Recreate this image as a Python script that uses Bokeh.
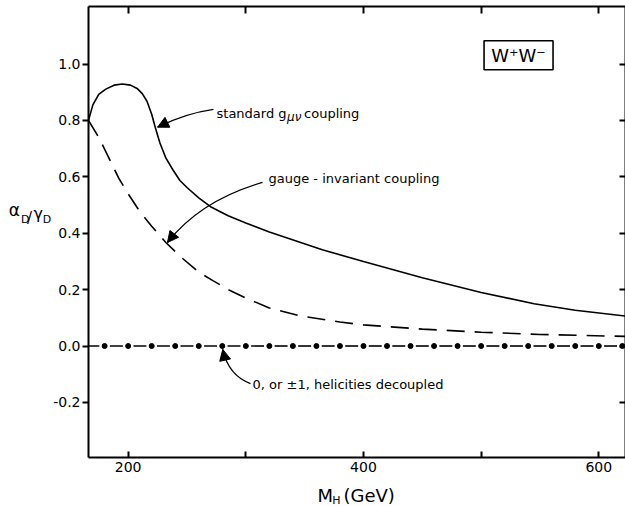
import numpy as np
from bokeh.plotting import figure
from bokeh.models import (Range1d, LinearAxis, FixedTicker, NumeralTickFormatter,
                          Label, Arrow, NormalHead)
from bokeh.embed import file_html
from bokeh.resources import INLINE

# ---------------- data ----------------
mh_standard = [166.3, 170, 175, 181, 188, 195, 202, 208, 212, 216, 220, 223, 227, 232,
               238, 244, 250, 260, 270, 285, 300, 320, 346, 365, 400, 450, 500, 545,
               580, 622.7]
alpha_standard = [0.80, 0.855, 0.892, 0.911, 0.925, 0.929, 0.925, 0.912, 0.895, 0.868,
                  0.822, 0.776, 0.72, 0.667, 0.625, 0.587, 0.562, 0.525, 0.494, 0.462,
                  0.436, 0.404, 0.368, 0.341, 0.300, 0.242, 0.190, 0.150, 0.127, 0.106]

mh_gauge = [166.3, 175, 185, 192, 200, 210, 220, 232, 245, 260, 272, 285, 300, 320,
            346, 380, 400, 450, 500, 550, 622.7]
alpha_gauge = [0.80, 0.74, 0.655, 0.595, 0.54, 0.476, 0.425, 0.367, 0.315, 0.262,
               0.232, 0.2, 0.17, 0.135, 0.107, 0.085, 0.075, 0.06, 0.049, 0.041, 0.034]

mh_decoupled = [180, 200, 220, 240, 260, 280, 300, 320, 340, 360, 380, 400, 420, 440,
                460, 480, 500, 520, 540, 560, 580, 600, 620]
alpha_decoupled = [0.0, 0.0, 0.0, 0.0, 0.0, 0.0, 0.0, 0.0, 0.0, 0.0, 0.0, 0.0, 0.0,
                   0.0, 0.0, 0.0, 0.0, 0.0, 0.0, 0.0, 0.0, 0.0, 0.0]

x_ticks_labeled = [200, 400, 600]
x_ticks_minor = [300, 500]
x_ticks_all = [200, 300, 400, 500, 600]
y_ticks = [-0.2, 0.0, 0.2, 0.4, 0.6, 0.8, 1.0]

# plot box (data limits) inside the full canvas view
X_LO, X_HI = 166.3, 622.7
Y_LO, Y_HI = -0.395, 1.204

FONT = "DejaVu Sans"

p = figure(width=625, height=506,
           x_range=Range1d(91.5, 622.7), y_range=Range1d(-0.5691, 1.2252),
           output_backend="svg", toolbar_location=None,
           x_axis_location=None, y_axis_location=None,
           min_border_left=0, min_border_right=0, min_border_top=0, min_border_bottom=0)
p.grid.visible = False
p.outline_line_color = None
p.background_fill_color = "white"
p.border_fill_color = "white"


def style_axis(ax):
    ax.axis_line_width = 2
    ax.axis_line_color = "black"
    ax.major_tick_line_width = 2
    ax.major_tick_line_color = "black"
    ax.minor_tick_line_width = 2
    ax.minor_tick_line_color = "black"
    ax.major_label_text_font = FONT
    ax.major_label_text_font_size = "14px"
    ax.major_label_text_color = "black"


# left axis (ticks outward, labelled)
left = LinearAxis(ticker=FixedTicker(ticks=y_ticks), fixed_location=X_LO,
                  bounds=(Y_LO, Y_HI), formatter=NumeralTickFormatter(format="0.0"))
style_axis(left)
left.major_tick_in = 0
left.major_tick_out = 6
left.minor_tick_in = 0
left.minor_tick_out = 0
left.major_label_standoff = 2
p.add_layout(left, "left")

# bottom axis (ticks inward, labels at 200/400/600)
bottom = LinearAxis(ticker=FixedTicker(ticks=x_ticks_labeled, minor_ticks=x_ticks_minor),
                    fixed_location=Y_LO, bounds=(X_LO, X_HI))
style_axis(bottom)
bottom.major_tick_in = 6
bottom.major_tick_out = 0
bottom.minor_tick_in = 6
bottom.minor_tick_out = 0
bottom.major_label_standoff = 5
p.add_layout(bottom, "below")

# top and right frame axes: unlabelled inward ticks only
top = LinearAxis(ticker=FixedTicker(ticks=[], minor_ticks=x_ticks_all),
                 fixed_location=Y_HI, bounds=(X_LO, X_HI))
style_axis(top)
top.minor_tick_in = 7
top.minor_tick_out = 0
p.add_layout(top, "above")

right = LinearAxis(ticker=FixedTicker(ticks=[], minor_ticks=y_ticks),
                   fixed_location=X_HI, bounds=(Y_LO, Y_HI))
style_axis(right)
right.minor_tick_in = 6
right.minor_tick_out = 0
p.add_layout(right, "right")

# ---------------- curves ----------------
p.line(mh_standard, alpha_standard, line_color="black", line_width=1.6)
p.line(mh_gauge, alpha_gauge, line_color="black", line_width=1.6, line_dash="18 10")

dec = np.array(mh_decoupled, dtype=float)
p.segment(x0=np.maximum(dec - 15.5, X_LO), y0=alpha_decoupled, x1=dec - 4.5,
          y1=alpha_decoupled, line_color="black", line_width=1.6)
p.scatter(mh_decoupled, alpha_decoupled, size=5, color="black")


# ---------------- annotations ----------------
def txt(x, y, s, size="13px", baseline="middle", align="left", style="normal"):
    p.add_layout(Label(x=x, y=y, text=s, text_font=FONT, text_font_size=size,
                       text_baseline=baseline, text_align=align, text_color="black",
                       text_font_style=style))


txt(275.1, 0.823, "standard g", baseline="alphabetic")
txt(335.0, 0.812, "μν", size="12px", baseline="alphabetic", style="italic")
txt(349.5, 0.823, "coupling", baseline="alphabetic")

txt(319.3, 0.593, "gauge - invariant  coupling")
txt(305.7, -0.137, "0, or ±1, helicities decoupled")

arrows = [
    ((272.5, 0.839), (248.7, 0.825), (225.0, 0.776)),
    ((314.2, 0.580), (261.5, 0.516), (233.4, 0.367)),
    ((304.0, -0.133), (285.3, -0.105), (280.4, -0.012)),
]
for (sx, sy), (cx, cy), (ex, ey) in arrows:
    p.quadratic(x0=[sx], y0=[sy], x1=[ex], y1=[ey], cx=[cx], cy=[cy],
                line_color="black", line_width=1.3)
    p.add_layout(Arrow(end=NormalHead(size=11, fill_color="black", line_color="black",
                                      line_width=1),
                       x_start=cx, y_start=cy, x_end=ex, y_end=ey, line_alpha=0))

# W+W- box
p.rect(x=[531.8], y=[1.031], width=69, height=29, width_units="screen",
       height_units="screen", fill_color=None, line_color="black", line_width=1.6)
txt(531.8, 1.031, "W⁺W⁻", size="18px", align="center")

# axis titles
txt(361.0, -0.530, "M", size="18px", baseline="alphabetic")
txt(373.5, -0.548, "H", size="11px", baseline="alphabetic")
txt(383.0, -0.530, "(GeV)", size="18px", baseline="alphabetic")

txt(98.5, 0.482, "α", size="17px", baseline="alphabetic")
txt(108.9, 0.449, "D", size="11px", baseline="alphabetic")
txt(114.0, 0.455, "/", size="15px", baseline="alphabetic")
txt(119.5, 0.469, "γ", size="16px", baseline="alphabetic")
txt(127.4, 0.449, "D", size="11px", baseline="alphabetic")

open("out.html", "w").write(file_html(p, INLINE))
